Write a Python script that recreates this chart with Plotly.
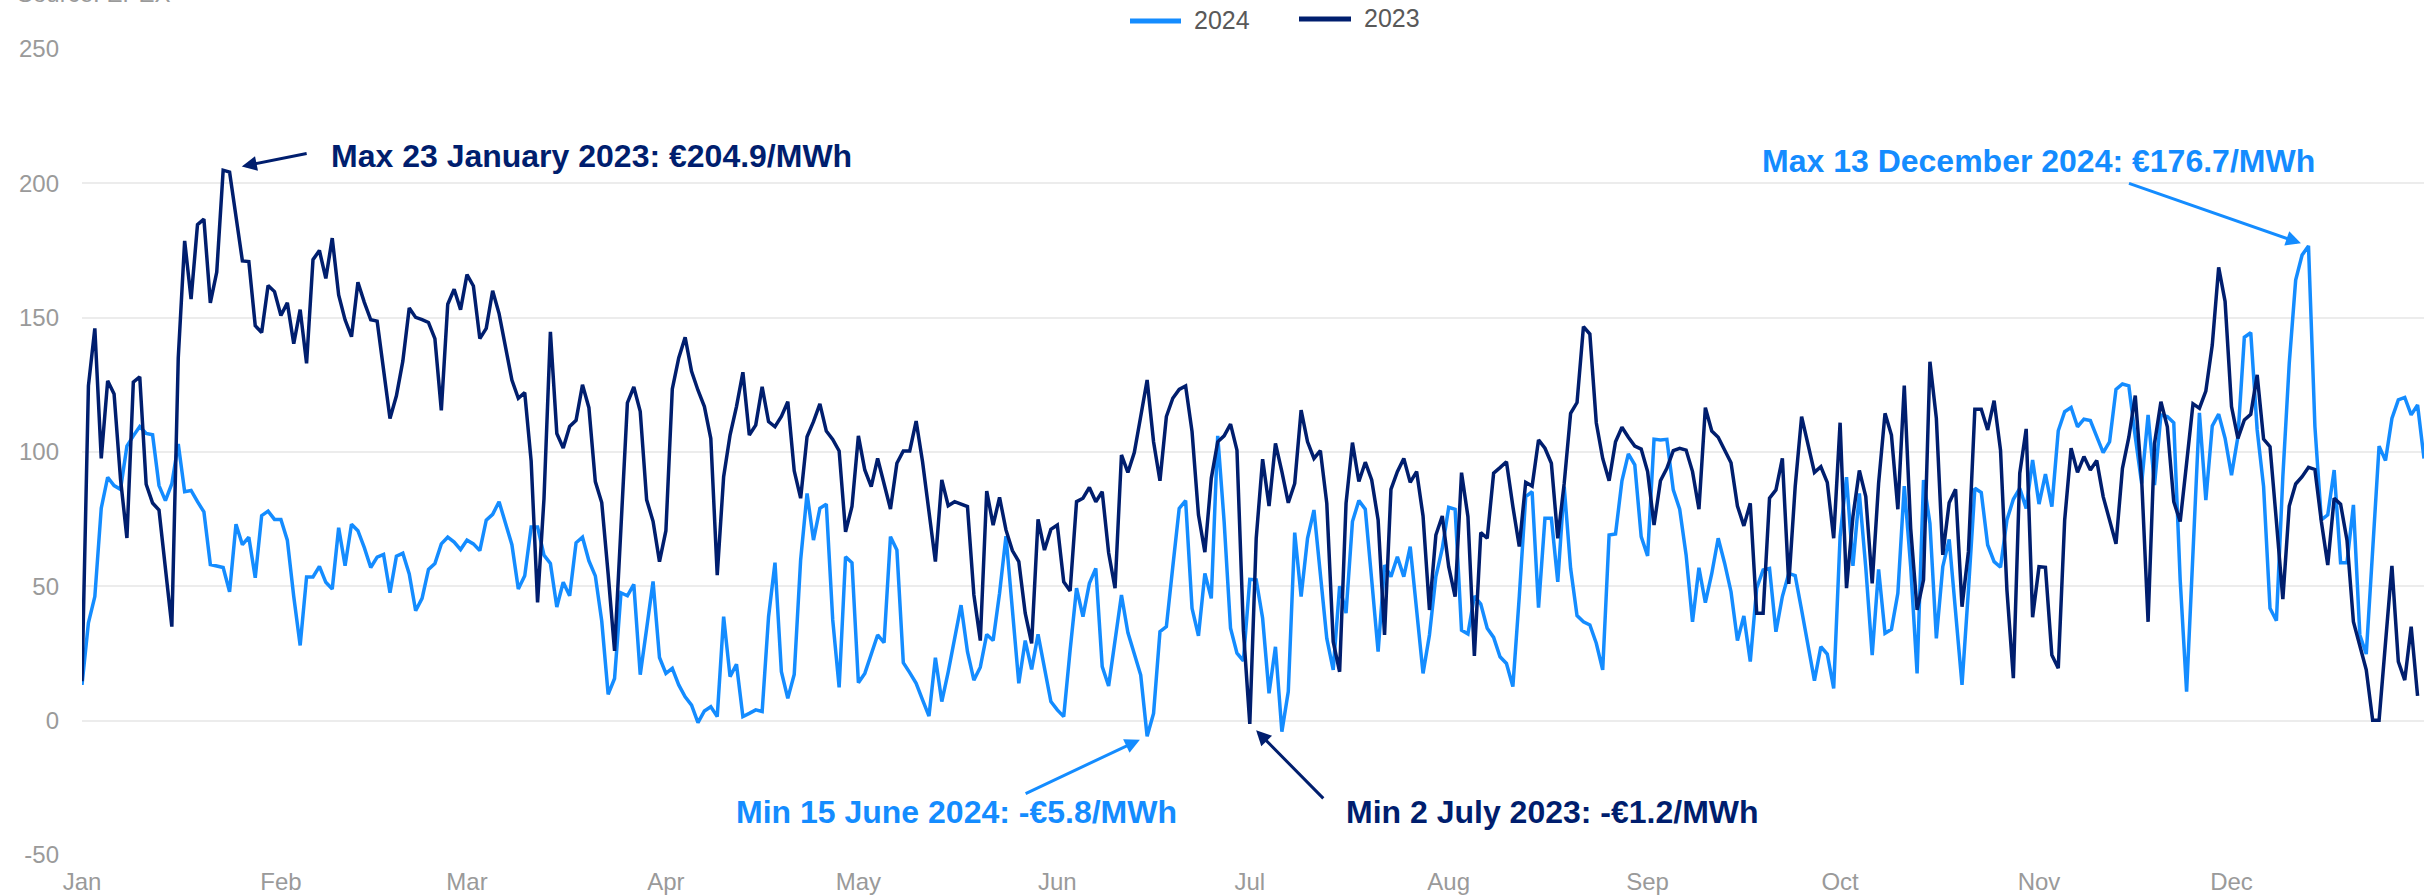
import numpy as np
import pandas as pd
import plotly.graph_objects as go

# Daily day-ahead base prices (EUR/MWh), one value per day of the year
price_2024 = [
    13.3, 36.4, 46.2, 79.1, 90.6, 87.5, 86.1, 102.2, 106.0, 109.5,
    106.9, 106.4, 87.5, 81.9, 88.2, 103.0, 85.2, 85.7, 81.5, 77.7,
    58.1, 57.4, 57.0, 48.0, 73.1, 65.5, 68.3, 53.2, 76.3, 78.0,
    74.9, 74.9, 67.2, 46.2, 28.0, 53.5, 53.5, 57.4, 51.5, 49.0,
    71.8, 57.7, 73.1, 70.7, 64.4, 57.0, 60.9, 61.9, 47.6, 61.2,
    62.3, 54.6, 40.9, 45.5, 56.3, 58.5, 65.8, 68.3, 66.5, 63.7,
    67.2, 65.8, 63.3, 74.6, 76.8, 81.5, 73.5, 65.5, 49.0, 53.9,
    72.1, 72.1, 61.6, 58.5, 42.3, 51.5, 46.5, 66.2, 68.3, 59.5,
    53.9, 37.1, 9.8, 15.7, 47.6, 46.5, 50.7, 17.1, 34.3, 51.8,
    23.5, 17.6, 19.5, 13.3, 8.9, 5.8, -0.7, 3.6, 5.2, 1.5,
    38.7, 16.4, 21.0, 1.5, 2.7, 4.0, 3.4, 38.7, 58.8, 18.2,
    8.3, 17.2, 59.8, 84.6, 67.2, 79.0, 80.6, 37.5, 12.4, 61.0,
    58.8, 14.1, 17.6, 24.4, 31.9, 29.0, 68.5, 63.5, 21.6, 17.9,
    13.9, 7.7, 1.7, 23.4, 7.1, 18.2, 30.6, 43.0, 25.7, 15.1,
    19.9, 32.1, 29.8, 47.4, 68.7, 40.2, 13.9, 29.8, 19.1, 32.1,
    19.5, 7.1, 4.0, 1.5, 26.3, 49.3, 38.7, 51.1, 56.7, 20.1,
    12.9, 28.8, 46.8, 32.8, 25.1, 17.0, -5.8, 2.7, 33.1, 35.0,
    57.3, 79.0, 81.9, 41.8, 31.6, 54.8, 45.5, 106.0, 74.1, 34.4,
    25.1, 22.3, 52.6, 52.4, 38.1, 10.2, 27.5, -4.1, 10.8, 70.0,
    46.2, 67.9, 78.4, 53.0, 30.6, 18.9, 50.1, 40.0, 74.1, 81.9,
    78.7, 52.4, 25.7, 57.9, 53.6, 61.0, 53.6, 64.8, 41.8, 17.6,
    31.9, 53.6, 64.1, 79.4, 78.7, 33.7, 32.3, 46.4, 43.4, 34.4,
    31.0, 23.8, 21.3, 12.7, 46.2, 83.4, 85.2, 42.1, 75.3, 75.3,
    51.7, 87.1, 56.7, 39.1, 36.8, 35.6, 28.8, 18.9, 69.1, 69.5,
    89.3, 99.3, 95.2, 68.5, 61.3, 104.8, 104.5, 104.7, 85.9, 78.7,
    61.7, 36.8, 56.9, 43.9, 54.8, 67.9, 58.6, 48.0, 29.8, 39.0,
    22.0, 49.3, 56.1, 56.7, 33.1, 46.2, 54.8, 54.0, 41.2, 27.5,
    14.9, 27.5, 24.8, 12.0, 68.5, 90.6, 57.6, 84.6, 57.0, 24.4,
    56.3, 32.5, 34.0, 47.4, 87.3, 57.3, 17.6, 89.6, 73.4, 30.6,
    57.3, 67.5, 41.2, 13.3, 48.6, 86.5, 84.9, 65.4, 59.2, 57.1,
    74.7, 82.4, 86.5, 79.0, 97.0, 80.6, 91.8, 79.7, 107.9, 115.0,
    116.6, 109.4, 112.2, 111.7, 105.7, 99.8, 103.8, 123.3, 125.3, 124.6,
    105.7, 88.3, 113.8, 87.7, 113.8, 113.2, 110.9, 52.4, 10.8, 63.5,
    114.6, 82.1, 109.7, 114.1, 105.1, 91.4, 105.7, 142.7, 144.4, 108.2,
    87.1, 41.8, 37.2, 90.8, 133.0, 164.0, 173.3, 176.7, 109.4, 74.7,
    76.6, 93.3, 58.8, 58.8, 80.3, 31.9, 24.8, 63.5, 102.2, 96.8,
    112.5, 119.4, 120.3, 113.8, 117.5, 97.6,
]

price_2023 = [
    14.7, 124.6, 146.0, 97.6, 126.5, 121.6, 90.0, 68.0, 126.0, 128.0,
    88.0, 81.0, 78.4, 57.0, 35.0, 135.0, 178.6, 156.9, 184.6, 186.7,
    155.5, 167.0, 204.9, 204.2, 187.7, 171.1, 170.9, 147.0, 144.5, 162.0,
    159.7, 150.8, 155.5, 140.3, 153.0, 133.0, 171.6, 175.0, 164.6, 179.6,
    158.5, 149.2, 142.9, 163.2, 155.7, 149.2, 148.7, 130.3, 112.5, 120.9,
    133.8, 153.6, 150.1, 149.3, 148.2, 142.2, 115.5, 155.0, 160.6, 153.0,
    166.0, 161.8, 142.2, 146.0, 160.0, 151.5, 139.4, 126.8, 120.0, 122.1,
    96.6, 44.0, 82.6, 144.7, 106.9, 101.5, 109.5, 111.8, 125.0, 116.5,
    89.0, 81.2, 54.6, 26.0, 72.0, 118.3, 124.2, 115.1, 82.2, 74.2,
    59.2, 70.7, 123.5, 135.0, 142.7, 130.0, 123.0, 116.9, 105.0, 54.2,
    90.8, 106.3, 116.9, 129.7, 106.3, 110.0, 124.3, 111.3, 109.4, 113.2,
    118.7, 93.0, 82.8, 105.7, 111.3, 117.9, 107.8, 104.7, 100.4, 70.3,
    79.7, 106.0, 93.3, 87.1, 97.6, 88.3, 78.8, 95.8, 100.4, 100.4,
    111.5, 96.4, 77.2, 59.2, 89.6, 80.0, 81.5, 80.6, 79.7, 46.8,
    29.8, 85.5, 72.8, 83.1, 71.0, 63.3, 59.2, 40.0, 28.8, 74.9,
    63.5, 71.2, 72.8, 51.7, 48.3, 81.5, 82.8, 86.8, 81.5, 85.2,
    62.5, 49.3, 98.9, 92.4, 99.8, 113.2, 126.8, 103.8, 89.3, 113.2,
    120.0, 123.3, 124.6, 107.6, 76.6, 62.7, 90.2, 103.8, 106.0, 110.4,
    100.7, 33.7, -1.2, 67.9, 97.3, 79.9, 103.2, 92.7, 81.1, 88.3,
    115.6, 103.8, 97.6, 100.5, 80.9, 29.4, 18.2, 80.9, 103.5, 89.0,
    96.2, 89.6, 74.7, 31.9, 86.1, 92.7, 97.6, 88.7, 92.7, 76.2,
    41.2, 69.1, 76.2, 57.3, 46.2, 92.3, 75.9, 24.1, 70.0, 67.9,
    92.1, 94.2, 96.4, 79.7, 64.8, 88.7, 87.3, 104.5, 101.4, 95.8,
    67.9, 88.3, 114.4, 118.4, 146.7, 143.9, 110.9, 97.6, 89.3, 103.8,
    109.2, 105.5, 102.2, 101.1, 92.7, 72.8, 89.3, 93.9, 100.5, 101.4,
    100.7, 92.7, 78.7, 116.5, 107.8, 105.5, 100.7, 96.0, 79.9, 72.5,
    80.9, 40.0, 40.0, 82.8, 85.9, 97.6, 50.9, 87.1, 113.2, 102.6,
    92.4, 94.5, 88.7, 67.9, 110.9, 49.3, 76.0, 93.1, 83.4, 51.1,
    88.3, 114.4, 106.3, 78.7, 124.7, 71.6, 41.2, 52.4, 133.6, 112.5,
    61.7, 81.1, 86.1, 42.4, 62.9, 115.9, 115.9, 108.2, 119.1, 100.7,
    48.6, 15.8, 92.1, 108.6, 38.5, 57.3, 57.1, 24.4, 19.5, 74.7,
    101.4, 92.4, 98.3, 93.3, 96.8, 83.4, 74.7, 65.8, 93.9, 105.5,
    121.0, 89.6, 36.8, 103.2, 118.7, 109.4, 81.5, 74.1, 95.8, 117.9,
    116.3, 122.7, 139.8, 168.7, 156.0, 116.9, 105.1, 111.9, 114.0, 128.7,
    104.8, 102.0, 74.1, 45.2, 79.9, 88.1, 90.8, 94.3, 93.5, 74.1,
    57.9, 82.8, 80.6, 67.2, 36.8, 28.2, 18.9, 0.2, 0.2, 29.0,
    57.6, 22.0, 15.1, 35.0, 9.2,
]

series_names = ["2024", "2023"]
month_labels = ["Jan", "Feb", "Mar", "Apr", "May", "Jun",
                "Jul", "Aug", "Sep", "Oct", "Nov", "Dec"]
y_tick_values = [-50, 0, 50, 100, 150, 200, 250]
y_tick_labels = ["-50", "0", "50", "100", "150", "200", "250"]

# Both years are laid out day by day on one shared calendar axis
axis_days = pd.date_range("2024-01-01", "2024-12-31", freq="D")
month_starts = pd.date_range("2024-01-01", "2024-12-01", freq="MS")

LIGHT = "#148cff"
NAVY = "#001e6e"
FONT = "Liberation Sans, Arial, sans-serif"

W, H = 2435, 896
M = dict(l=82, r=11, t=49, b=41)
plot_w = W - M["l"] - M["r"]
plot_h = H - M["t"] - M["b"]


def px_x(px):
    return (px - M["l"]) / plot_w


def px_y(py):
    return (H - M["b"] - py) / plot_h


fig = go.Figure()
fig.add_trace(go.Scatter(
    x=axis_days[:len(price_2024)], y=price_2024, mode="lines",
    name=series_names[0], line=dict(color=LIGHT, width=3.5), showlegend=False))
fig.add_trace(go.Scatter(
    x=axis_days[:len(price_2023)], y=price_2023, mode="lines",
    name=series_names[1], line=dict(color=NAVY, width=3.5), showlegend=False))

# Extremes of each year
i_max23 = int(np.argmax(price_2023))
i_min23 = int(np.argmin(price_2023))
i_max24 = int(np.argmax(price_2024))
i_min24 = int(np.argmin(price_2024))


def euro(v):
    return ("-€%.1f/MWh" % abs(v)) if v < 0 else ("€%.1f/MWh" % v)


callouts = [
    # (index, series, colour, label, label px-left, label px-mid-y, tail dx, tail dy, standoff)
    (i_max23, price_2023, NAVY, "Max 23 January 2023: " + euro(price_2023[i_max23]), 329, 156, 85, -17, 19),
    (i_max24, price_2024, LIGHT, "Max 13 December 2024: " + euro(price_2024[i_max24]), 1760, 161, -181, -63, 8),
    (i_min24, price_2024, LIGHT, "Min 15 June 2024: " + euro(price_2024[i_min24]), 734, 812, -123, 58, 8),
    (i_min23, price_2023, NAVY, "Min 2 July 2023: " + euro(price_2023[i_min23]), 1344, 812, 75, 76, 9),
]

annotations = []
for idx, vals, col, label, lx, ly, dx, dy, so in callouts:
    annotations.append(dict(
        x=axis_days[idx], y=vals[idx], xref="x", yref="y",
        text="", showarrow=True, ax=dx, ay=dy,
        arrowhead=2, arrowsize=1, arrowwidth=3, arrowcolor=col, standoff=so))
    annotations.append(dict(
        x=px_x(lx), y=px_y(ly), xref="paper", yref="paper",
        xanchor="left", yanchor="middle", showarrow=False,
        text="<b>%s</b>" % label, font=dict(family=FONT, size=32, color=col)))

# Legend drawn as line samples with labels along the top
legend_items = [
    (series_names[0], LIGHT, 1130, 1181, 21, 1192),
    (series_names[1], NAVY, 1299, 1351, 19, 1362),
]
shapes = []
for name, col, x0, x1, ly, tx in legend_items:
    shapes.append(dict(type="line", xref="paper", yref="paper",
                       x0=px_x(x0), x1=px_x(x1), y0=px_y(ly), y1=px_y(ly),
                       line=dict(color=col, width=5)))
    annotations.append(dict(
        x=px_x(tx), y=px_y(ly - 1), xref="paper", yref="paper",
        xanchor="left", yanchor="middle", showarrow=False, text=name,
        font=dict(family=FONT, size=25, color="#595959")))

annotations.append(dict(
    x=px_x(15), y=px_y(9), xref="paper", yref="paper",
    xanchor="left", yanchor="bottom", showarrow=False, text="Source: EPEX",
    font=dict(family=FONT, size=24, color="#9a9a9a")))

fig.update_layout(
    width=W, height=H, margin=M,
    paper_bgcolor="white", plot_bgcolor="white",
    font=dict(family=FONT, size=24, color="#9a9a9a"),
    showlegend=False,
    annotations=annotations, shapes=shapes,
    xaxis=dict(
        type="date", range=[axis_days[0], axis_days[-1]],
        tickvals=month_starts, ticktext=month_labels,
        showgrid=False, zeroline=False, showline=False, ticks="",
        tickfont=dict(family=FONT, size=24, color="#9a9a9a"),
        ticklabelstandoff=10, automargin=False,
    ),
    yaxis=dict(
        range=[-50, 250], tickvals=y_tick_values, ticktext=y_tick_labels,
        showgrid=True, gridcolor="#ececec", gridwidth=2,
        zeroline=False, showline=False, ticks="",
        tickfont=dict(family=FONT, size=24, color="#9a9a9a"),
        ticklabelstandoff=22, automargin=False,
    ),
)

fig.write_html("out.html")
